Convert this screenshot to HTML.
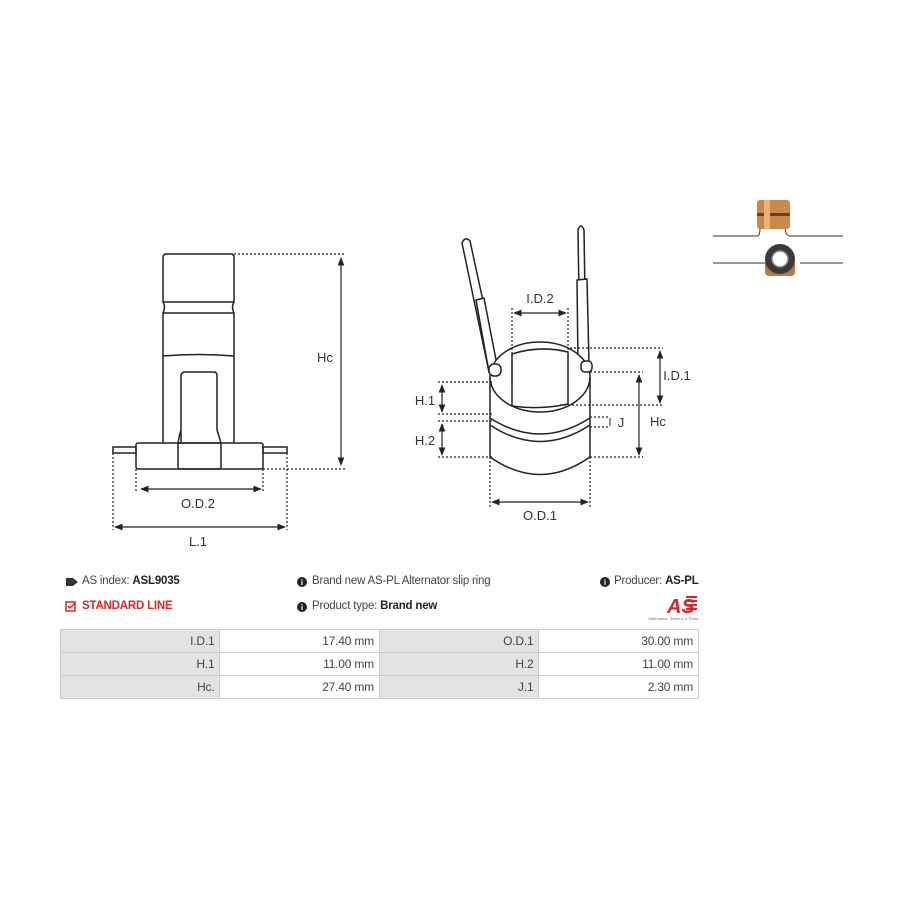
<!DOCTYPE html>
<html><head><meta charset="utf-8"><style>
body{margin:0;background:#fff;width:900px;height:900px;overflow:hidden;position:relative;font-family:"Liberation Sans",sans-serif;}
.t{position:absolute;font-size:11.5px;color:#444;white-space:nowrap;letter-spacing:-0.2px}
b{color:#222}
table{position:absolute;left:60px;top:629px;border-collapse:collapse;width:639px}
td{height:22px;border:1px solid #ccc;text-align:right;padding:0 5px;font-size:12px;color:#444;width:149px;letter-spacing:-0.2px}
td.g{background:#e3e3e3}
</style></head><body>
<svg width="900" height="900" style="position:absolute;left:0;top:0" font-family="Liberation Sans,sans-serif" fill="none" stroke="#222" stroke-width="1.5">
<defs>
<marker id="a" viewBox="0 0 10 10" refX="9" refY="5" markerWidth="7" markerHeight="7" orient="auto"><path d="M0,1L10,5L0,9z" fill="#222" stroke="none"/></marker>
<marker id="s" viewBox="0 0 10 10" refX="1" refY="5" markerWidth="7" markerHeight="7" orient="auto"><path d="M10,1L0,5L10,9z" fill="#222" stroke="none"/></marker>
</defs>
<!-- left drawing -->
<path d="M166,254 H231 Q234,254 234,258 V302 Q231,307 234,313 V443 M163,313 V443 M166,254 Q163,254 163,258 V302 Q166,307 163,313"/>
<path d="M163,302 H234 M163,313 H234 M163,356 Q198,353 234,356"/>
<path d="M181,443 V376 Q181,372 185,372 H214 Q217,372 217,376 V430 Q219,436 221,443 M181,430 Q179,436 178,443"/>
<rect x="136" y="443" width="127" height="26" rx="2"/>
<rect x="178" y="443" width="43" height="26" rx="2"/>
<rect x="113" y="447" width="23" height="6"/><rect x="263" y="447" width="24" height="6"/>
<g stroke-dasharray="2,2" stroke-width="1.2">
<path d="M234,254 H345 M263,469 H345 M136,469 V492 M263,469 V492 M113,453 V530 M287,453 V530"/>
</g>
<g marker-start="url(#s)" marker-end="url(#a)" stroke-width="1.2">
<path d="M341,258 V465"/><path d="M141,489 H261"/><path d="M115,527 H285"/>
</g>
<g fill="#333" stroke="none" font-size="13" text-anchor="middle">
<text x="325" y="362">Hc</text><text x="198" y="508">O.D.2</text><text x="198" y="546">L.1</text>
</g>
<!-- right drawing -->
<path d="M462,243 Q465,236 470,241 L498,370 L489,372 Z" fill="#fff"/>
<path d="M476,300 L484,298 L498,370 L489,372 Z" fill="#fff"/>
<path d="M578,230 Q581,222 584,230 L586,362 L580,362 Z" fill="#fff"/>
<path d="M577,280 L587,279 L589,363 L578,364 Z" fill="#fff"/>
<ellipse cx="540" cy="377" rx="50" ry="35" fill="#fff"/>
<path d="M512,406 V354 Q540,345 568,352 V404 Q540,410 512,406 Z"/>
<rect x="489" y="364" width="12" height="12" rx="5" fill="#fff"/>
<rect x="581" y="361" width="11" height="11" rx="4" fill="#fff"/>
<path d="M490,377 V457 M590,377 V457 M490,418 Q540,450 590,418 M490,425 Q540,458 590,425 M490,457 Q540,492 590,457"/>
<g stroke-dasharray="2,2" stroke-width="1.2">
<path d="M438,382 H492 M438,414 H492 M438,421 H492 M438,457 H492 M570,348 H663 M560,405 H663 M590,372 H643 M590,457 H643 M590,417 H610 M590,427 H610 M512,308 V382 M568,308 V352 M490,457 V507 M590,457 V507"/>
</g>
<g marker-start="url(#s)" marker-end="url(#a)" stroke-width="1.2">
<path d="M442,385 V412"/><path d="M442,424 V455"/><path d="M660,351 V403"/><path d="M639,375 V455"/><path d="M514,313 H566"/><path d="M492,502 H588"/>
</g>
<path d="M610,418 V426" stroke-width="1"/>
<g fill="#333" stroke="none" font-size="13" text-anchor="middle">
<text x="425" y="405">H.1</text><text x="425" y="445">H.2</text><text x="621" y="427">J</text>
<text x="677" y="380">I.D.1</text><text x="658" y="426">Hc</text><text x="540" y="303">I.D.2</text><text x="540" y="520">O.D.1</text>
</g>
<!-- photo -->
<g stroke="#333" stroke-width="1">
<path d="M713,236 H757 Q760,236 760,228 M785,228 Q786,236 790,236 H843"/>
<path d="M713,263 H770 M800,263 H843"/>
</g>
<rect x="757" y="200" width="33" height="29" rx="3" fill="#c98a4a" stroke="none"/>
<rect x="757" y="213" width="33" height="3" fill="#6a4020" stroke="none"/>
<rect x="764" y="200" width="6" height="29" fill="#e8b27a" stroke="none"/>
<rect x="765" y="260" width="30" height="16" rx="4" fill="#b87a40" stroke="none"/>
<circle cx="780" cy="259" r="15" fill="#3a3a3a" stroke="none"/>
<circle cx="780" cy="259" r="8" fill="#fff" stroke="#888"/>
<!-- icons -->
<path d="M66,578 h7 l5,4 -5,4 h-7 z" fill="#333" stroke="none"/>
<rect x="66" y="602" width="9" height="9" stroke="#d7262b" stroke-width="1.5"/>
<path d="M68,606 l2,2 5,-5" stroke="#d7262b" stroke-width="1.5"/>
<g fill="#222" stroke="none"><circle cx="302" cy="582" r="5"/><circle cx="302" cy="607" r="5"/><circle cx="605" cy="582" r="5"/></g>
<g fill="#fff" stroke="none" font-size="8" font-weight="bold" text-anchor="middle"><text x="302" y="585">i</text><text x="302" y="610">i</text><text x="605" y="585">i</text></g>
<!-- logo -->
<text x="667" y="613" fill="#d7262b" stroke="none" font-size="20" font-weight="bold" font-style="italic">AS</text>
<g fill="#d7262b" stroke="none"><rect x="686" y="596" width="11" height="2"/><rect x="686" y="600" width="11" height="2"/><rect x="686" y="604" width="11" height="2"/><rect x="686" y="608" width="11" height="2"/></g>
<text x="698" y="620" fill="#777" stroke="none" font-size="4" text-anchor="end">Alternators, Starters &amp; Parts</text>
</svg>
<div class="t" style="left:82px;top:575px">AS index: <b>ASL9035</b></div>
<div class="t" style="left:82px;top:600px;color:#d7262b;font-weight:bold">STANDARD LINE</div>
<div class="t" style="left:312px;top:575px">Brand new AS-PL Alternator slip ring</div>
<div class="t" style="left:312px;top:600px">Product type: <b>Brand new</b></div>
<div class="t" style="left:614px;top:575px">Producer: <b>AS-PL</b></div>
<table>
<tr><td class="g">I.D.1</td><td>17.40 mm</td><td class="g">O.D.1</td><td>30.00 mm</td></tr>
<tr><td class="g">H.1</td><td>11.00 mm</td><td class="g">H.2</td><td>11.00 mm</td></tr>
<tr><td class="g">Hc.</td><td>27.40 mm</td><td class="g">J.1</td><td>2.30 mm</td></tr>
</table>
</body></html>
